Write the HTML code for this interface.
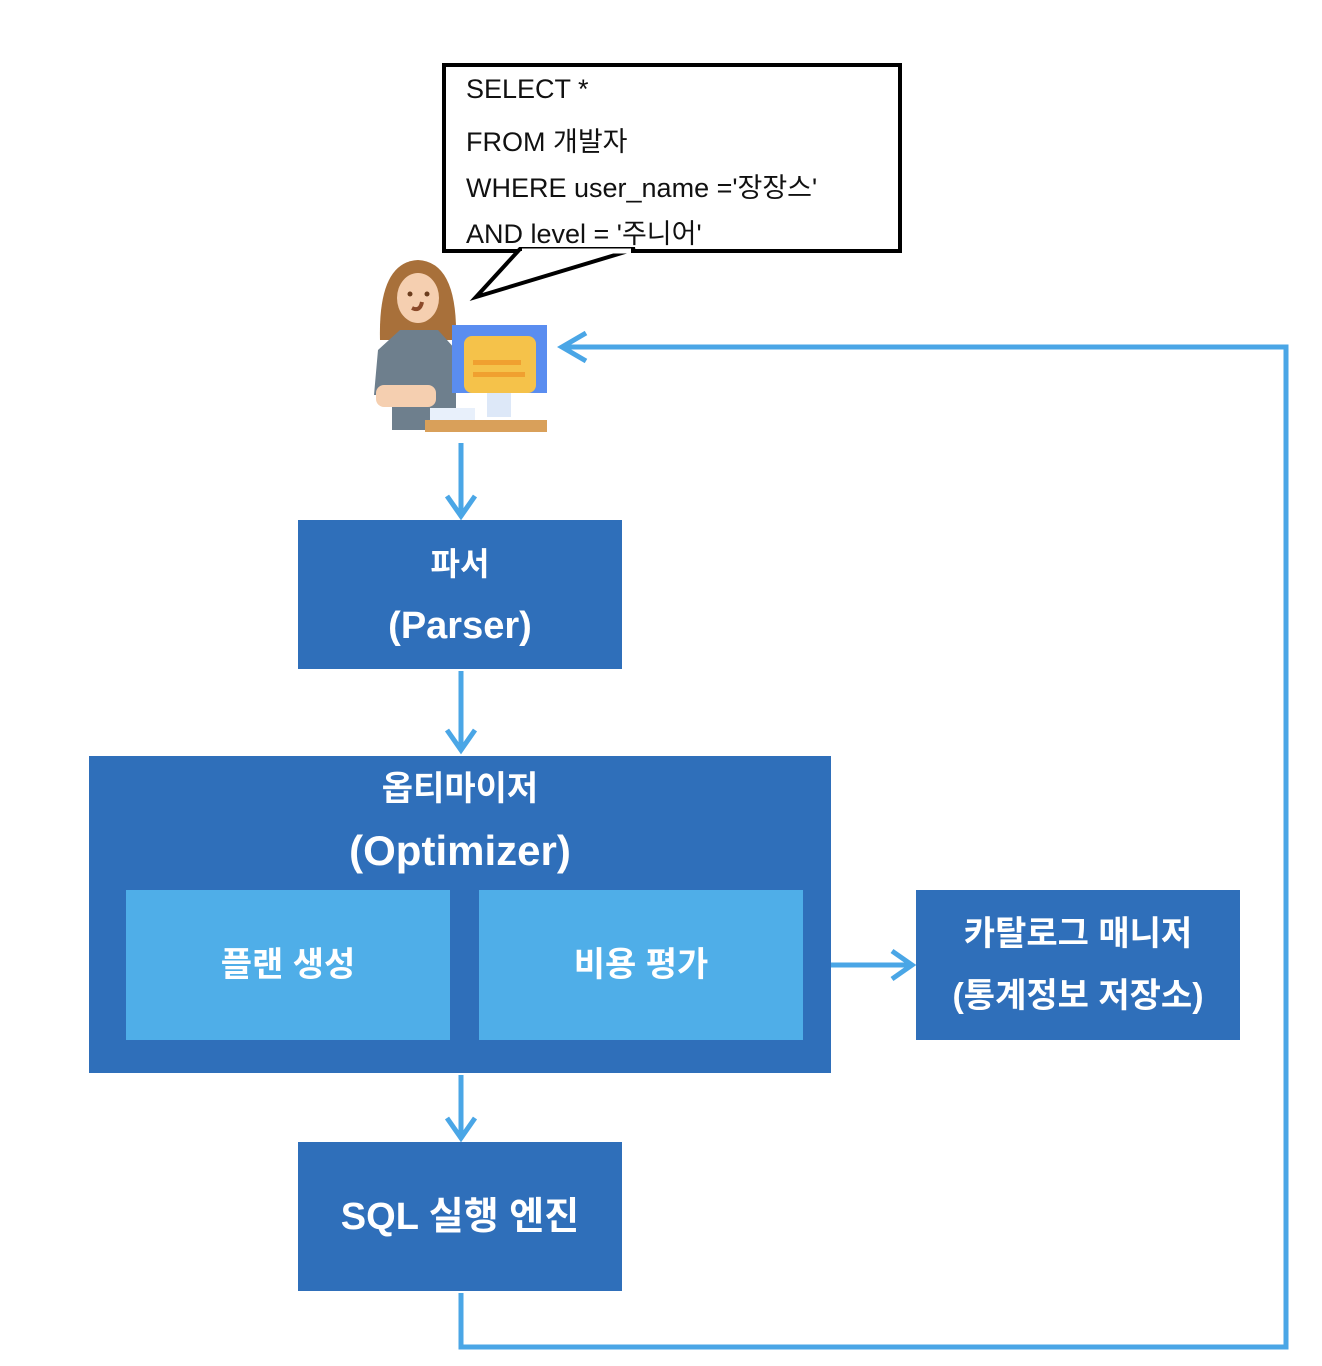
<!DOCTYPE html>
<html><head><meta charset="utf-8"><style>
body{margin:0;background:#fff;width:1322px;height:1366px;position:relative;font-family:"Liberation Sans","Noto Sans CJK KR",sans-serif;overflow:hidden}
.b{position:absolute;background:#2f6fba;color:#fff;display:flex;flex-direction:column;align-items:center;justify-content:center;text-align:center;font-size:38px;line-height:62px;font-weight:600}
.l{background:#4faee8}
.q{position:absolute;left:466px;font-size:27px;color:#111}
</style></head><body>
<svg width="1322" height="1366" style="position:absolute;left:0;top:0">
<g stroke="#4aa6e6" stroke-width="5" fill="none">
<line x1="461" y1="443" x2="461" y2="516"/><polyline points="447,496 461,516 475,496"/>
<line x1="461" y1="671" x2="461" y2="750"/><polyline points="447,730 461,750 475,730"/>
<line x1="461" y1="1075" x2="461" y2="1138"/><polyline points="447,1118 461,1138 475,1118"/>
<line x1="805" y1="965" x2="912" y2="965"/><polyline points="892,951 912,965 892,979"/>
<polyline points="461,1293 461,1347 1286,1347 1286,347 562,347"/><polyline points="586,333 562,347 586,361"/>
</g>
<rect x="444" y="65" width="456" height="186" fill="#fff" stroke="#000" stroke-width="4"/>
<polygon points="520,249 476,297 635,249" fill="#fff" stroke="#000" stroke-width="4"/>
<line x1="522" y1="251" x2="631" y2="251" stroke="#fff" stroke-width="5"/>
<path d="M380,340 Q378,262 418,260 Q458,262 456,340 Z" fill="#a8703a"/>
<path d="M378,350 L400,330 L438,330 L456,350 L456,430 L392,430 L392,395 L374,395 Z" fill="#6e7f8d"/>
<ellipse cx="418" cy="298" rx="21" ry="25" fill="#f5cfb0"/>
<circle cx="410" cy="294" r="2.5" fill="#6b3d1e"/><circle cx="427" cy="294" r="2.5" fill="#6b3d1e"/>
<path d="M412,308 Q420,312 422,302" stroke="#8b4a2a" stroke-width="4" fill="none"/>
<rect x="376" y="385" width="60" height="22" rx="8" fill="#f5cfb0"/>
<rect x="452" y="325" width="95" height="68" fill="#5a8df0"/>
<rect x="464" y="336" width="72" height="57" rx="8" fill="#f5c24a"/>
<rect x="473" y="360" width="48" height="5" fill="#f0a030"/><rect x="473" y="372" width="52" height="5" fill="#f0a030"/>
<rect x="487" y="393" width="24" height="24" fill="#dde8f8"/>
<rect x="430" y="408" width="45" height="12" fill="#e8f0fb"/>
<rect x="425" y="420" width="122" height="12" fill="#d9a05a"/>
</svg>
<div class="q" style="top:74px">SELECT *</div>
<div class="q" style="top:120px">FROM 개발자</div>
<div class="q" style="top:166px">WHERE user_name ='장장스'</div>
<div class="q" style="top:212px">AND level = '주니어'</div>
<div class="b" style="left:298px;top:520px;width:324px;height:149px"><div style="font-size:32px">파서</div><div>(Parser)</div></div>
<div class="b" style="left:89px;top:756px;width:742px;height:317px;justify-content:flex-start">
<div style="margin-top:2px;font-size:34px">옵티마이저</div><div style="font-size:42px">(Optimizer)</div></div>
<div class="b l" style="left:126px;top:890px;width:324px;height:150px;font-size:34px">플랜 생성</div>
<div class="b l" style="left:479px;top:890px;width:324px;height:150px;font-size:34px">비용 평가</div>
<div class="b" style="left:916px;top:890px;width:324px;height:150px;font-size:34px">카탈로그 매니저<br>(통계정보 저장소)</div>
<div class="b" style="left:298px;top:1142px;width:324px;height:149px">SQL 실행 엔진</div>
</body></html>
